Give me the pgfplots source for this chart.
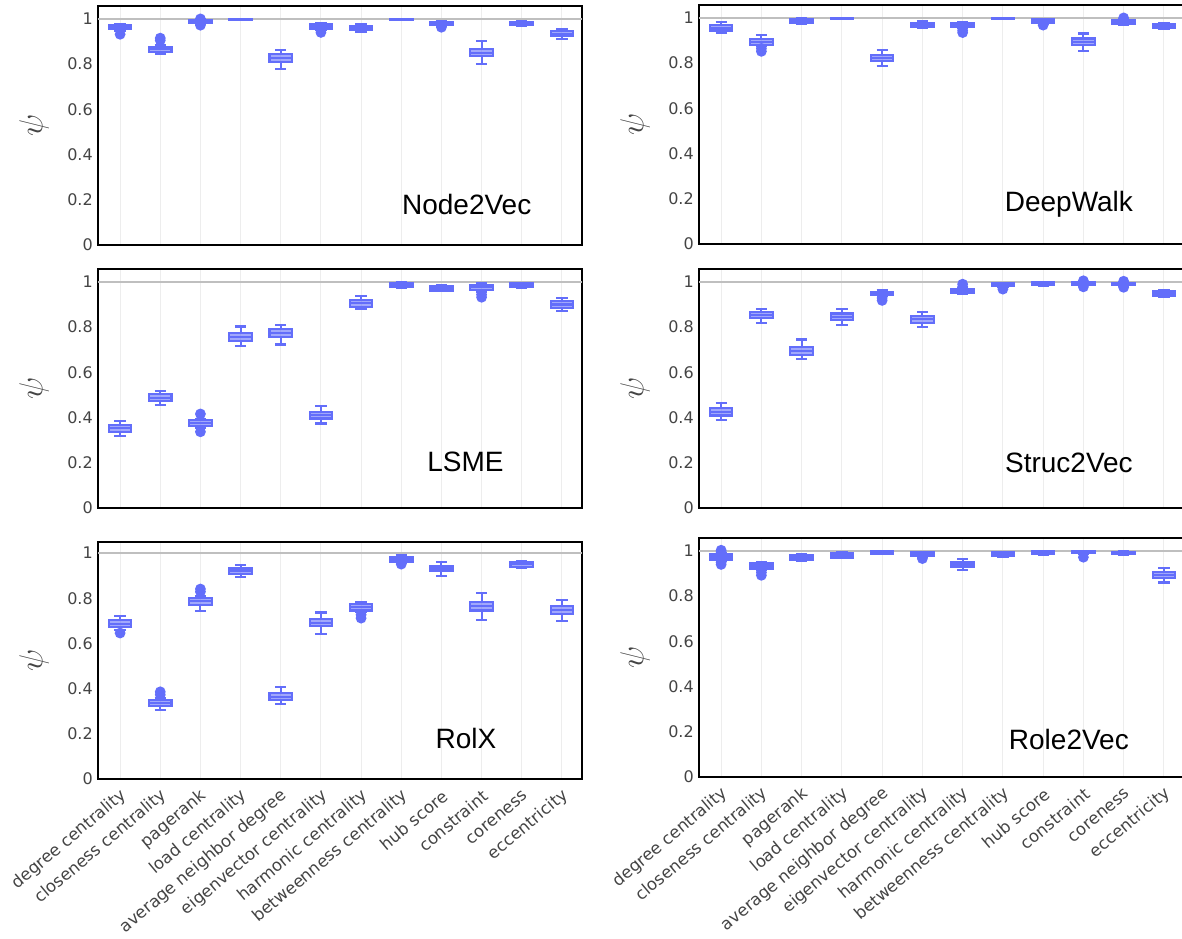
\documentclass[border=0pt]{standalone}
\usepackage{pgfplots}
\pgfplotsset{compat=1.18}
\usepgfplotslibrary{statistics}
\usepackage{fontspec}
\setmainfont{DejaVu Sans}
\newfontfamily\arialf{Liberation Sans}

\newlength{\px}
\setlength{\px}{0.75pt}
\definecolor{pblue}{HTML}{636EFA}
\definecolor{ptext}{HTML}{444444}
\newcommand{\tickfont}{\fontsize{12}{14}\selectfont}
\newcommand{\catfont}{\fontsize{12.5}{14}\selectfont}
\newcommand{\namefont}{\arialf\fontsize{21}{25}\selectfont}

% one box: position, lower whisker, lower quartile, median, upper quartile, upper whisker, outliers
\newcommand{\bx}[7]{\addplot[bstyle, boxplot prepared={draw direction=y, draw position=#1,
  lower whisker=#2, lower quartile=#3, median=#4, upper quartile=#5, upper whisker=#6}]
  table[row sep=\\, x expr=#1, y index=0] {#7};}

\pgfplotsset{
  bstyle/.style={draw=pblue, line width=1.6pt, mark=*, mark size=3.2pt,
    mark options={solid, fill=pblue, draw=pblue},
    boxplot/box extend=0.56, boxplot/whisker extend=0.28,
    boxplot/every box/.style={fill=pblue, fill opacity=0.6}},
  panel/.style={scale only axis, width=484\px, height=239\px,
    xmin=-0.55, xmax=11.5, ymin=0, ymax=1.057,
    xtick={0,...,11}, xticklabels={},
    ytick={0,0.2,0.4,0.6,0.8,1}, yticklabels={0,0.2,0.4,0.6,0.8,1},
    major tick length=0pt,
    xmajorgrids, x grid style={black!7, line width=0.75pt},
    axis line style={line width=1.5pt},
    extra y ticks={1}, extra y tick labels={},
    extra y tick style={ymajorgrids, major grid style={black!25, line width=1.3pt}},
    yticklabel style={font=\tickfont, text=ptext, inner sep=0pt, xshift=-5\px},
    ylabel={\fontsize{23}{26}\selectfont$\psi$},
    ylabel style={at={(axis description cs:-0.132,0.5)}, anchor=center, text=ptext}},
  bottompanel/.style={panel,
    xticklabels={degree centrality, closeness centrality, pagerank, load centrality,
      average neighbor degree, eigenvector centrality, harmonic centrality,
      betweenness centrality, hub score, constraint, coreness, eccentricity},
    xticklabel style={font=\catfont, text=ptext, inner sep=0pt, xshift=3pt, yshift=-11pt, rotate=40, anchor=east}}
}

\begin{document}
\begin{tikzpicture}
\useasboundingbox (0,0) rectangle (1182\px,-939\px);

% Node2Vec
\begin{axis}[panel, at={(98\px,-245\px)}, anchor=south west]
\bx{0}{0.945}{0.955}{0.963}{0.972}{0.978}{y\\0.932\\}
\bx{1}{0.847}{0.855}{0.866}{0.877}{0.886}{y\\0.905\\0.915\\}
\bx{2}{0.977}{0.982}{0.988}{0.993}{0.998}{y\\1.0\\0.972\\}
\bx{3}{0.996}{0.997}{0.998}{0.999}{1.0}{y\\}
\bx{4}{0.779}{0.808}{0.826}{0.845}{0.862}{y\\}
\bx{5}{0.95}{0.957}{0.965}{0.975}{0.98}{y\\0.94\\}
\bx{6}{0.943}{0.953}{0.96}{0.967}{0.975}{y\\}
\bx{7}{0.996}{0.997}{0.998}{0.999}{1.0}{y\\}
\bx{8}{0.97}{0.975}{0.981}{0.987}{0.992}{y\\0.963\\}
\bx{9}{0.801}{0.835}{0.85}{0.868}{0.904}{y\\}
\bx{10}{0.97}{0.975}{0.982}{0.988}{0.992}{y\\}
\bx{11}{0.912}{0.924}{0.935}{0.946}{0.956}{y\\}
\node[font=\namefont] at (axis cs:8.63,0.178) {Node2Vec};
\end{axis}

% DeepWalk
\begin{axis}[panel, width=485\px, at={(699\px,-244\px)}, anchor=south west]
\bx{0}{0.932}{0.944}{0.956}{0.968}{0.982}{y\\}
\bx{1}{0.875}{0.882}{0.894}{0.906}{0.926}{y\\0.865\\0.852\\}
\bx{2}{0.975}{0.979}{0.988}{0.995}{0.999}{y\\}
\bx{3}{0.996}{0.997}{0.998}{0.999}{1.0}{y\\}
\bx{4}{0.787}{0.81}{0.822}{0.835}{0.857}{y\\}
\bx{5}{0.955}{0.96}{0.97}{0.978}{0.984}{y\\}
\bx{6}{0.955}{0.96}{0.97}{0.978}{0.983}{y\\0.945\\0.935\\}
\bx{7}{0.996}{0.997}{0.998}{0.999}{1.0}{y\\}
\bx{8}{0.975}{0.979}{0.987}{0.994}{0.997}{y\\0.968\\}
\bx{9}{0.853}{0.879}{0.895}{0.909}{0.931}{y\\}
\bx{10}{0.97}{0.975}{0.983}{0.99}{0.993}{y\\1.0\\}
\bx{11}{0.95}{0.954}{0.963}{0.971}{0.975}{y\\}
\node[font=\namefont] at (axis cs:8.64,0.175) {DeepWalk};
\end{axis}

% LSME
\begin{axis}[panel, at={(98\px,-508\px)}, anchor=south west]
\bx{0}{0.32}{0.337}{0.352}{0.367}{0.385}{y\\}
\bx{1}{0.456}{0.473}{0.488}{0.503}{0.519}{y\\}
\bx{2}{0.355}{0.362}{0.375}{0.389}{0.395}{y\\0.416\\0.337\\}
\bx{3}{0.717}{0.74}{0.757}{0.774}{0.803}{y\\}
\bx{4}{0.723}{0.756}{0.773}{0.791}{0.809}{y\\}
\bx{5}{0.374}{0.396}{0.411}{0.426}{0.453}{y\\}
\bx{6}{0.882}{0.889}{0.905}{0.919}{0.936}{y\\}
\bx{7}{0.975}{0.978}{0.987}{0.995}{0.999}{y\\}
\bx{8}{0.958}{0.962}{0.972}{0.981}{0.985}{y\\}
\bx{9}{0.955}{0.963}{0.976}{0.988}{0.993}{y\\0.944\\0.932\\}
\bx{10}{0.972}{0.976}{0.985}{0.993}{0.996}{y\\}
\bx{11}{0.873}{0.885}{0.9}{0.914}{0.93}{y\\}
\node[font=\namefont] at (axis cs:8.6,0.204) {LSME};
\end{axis}

% Struc2Vec
\begin{axis}[panel, width=485\px, at={(699\px,-508\px)}, anchor=south west]
\bx{0}{0.391}{0.409}{0.425}{0.442}{0.465}{y\\}
\bx{1}{0.819}{0.839}{0.853}{0.867}{0.882}{y\\}
\bx{2}{0.659}{0.678}{0.695}{0.711}{0.745}{y\\}
\bx{3}{0.81}{0.83}{0.845}{0.86}{0.881}{y\\}
\bx{4}{0.937}{0.942}{0.95}{0.957}{0.962}{y\\0.929\\0.918\\}
\bx{5}{0.799}{0.819}{0.835}{0.851}{0.867}{y\\}
\bx{6}{0.947}{0.951}{0.96}{0.969}{0.972}{y\\0.978\\0.99\\}
\bx{7}{0.977}{0.981}{0.987}{0.993}{0.996}{y\\0.968\\}
\bx{8}{0.984}{0.987}{0.993}{0.998}{1.0}{y\\}
\bx{9}{0.985}{0.988}{0.994}{0.999}{1.0}{y\\0.978\\1.005\\}
\bx{10}{0.982}{0.985}{0.99}{0.996}{1.0}{y\\0.976\\1.003\\}
\bx{11}{0.934}{0.94}{0.95}{0.959}{0.966}{y\\}
\node[font=\namefont] at (axis cs:8.64,0.199) {Struc2Vec};
\end{axis}

% RolX
\begin{axis}[bottompanel, height=237\px, ymax=1.049, at={(98\px,-779\px)}, anchor=south west]
\bx{0}{0.658}{0.673}{0.687}{0.702}{0.723}{y\\0.646\\}
\bx{1}{0.307}{0.324}{0.338}{0.351}{0.36}{y\\0.373\\0.386\\}
\bx{2}{0.745}{0.771}{0.786}{0.801}{0.81}{y\\0.829\\0.841\\}
\bx{3}{0.895}{0.909}{0.92}{0.932}{0.947}{y\\}
\bx{4}{0.333}{0.348}{0.364}{0.381}{0.407}{y\\}
\bx{5}{0.64}{0.676}{0.692}{0.708}{0.737}{y\\}
\bx{6}{0.74}{0.746}{0.76}{0.773}{0.785}{y\\0.727\\0.712\\}
\bx{7}{0.958}{0.963}{0.973}{0.982}{0.991}{y\\0.951\\}
\bx{8}{0.897}{0.919}{0.932}{0.944}{0.959}{y\\}
\bx{9}{0.705}{0.746}{0.764}{0.782}{0.823}{y\\}
\bx{10}{0.935}{0.938}{0.95}{0.962}{0.965}{y\\}
\bx{11}{0.698}{0.732}{0.748}{0.764}{0.794}{y\\}
\node[font=\namefont] at (axis cs:8.61,0.178) {RolX};
\end{axis}

% Role2Vec
\begin{axis}[bottompanel, width=485\px, at={(699\px,-777\px)}, anchor=south west]
\bx{0}{0.955}{0.962}{0.973}{0.984}{0.99}{y\\1.003\\0.995\\0.95\\0.94\\}
\bx{1}{0.915}{0.922}{0.933}{0.944}{0.95}{y\\0.905\\0.892\\}
\bx{2}{0.955}{0.962}{0.972}{0.981}{0.986}{y\\}
\bx{3}{0.968}{0.971}{0.981}{0.991}{0.995}{y\\}
\bx{4}{0.985}{0.988}{0.994}{1.0}{1.0}{y\\}
\bx{5}{0.975}{0.978}{0.985}{0.993}{0.996}{y\\0.966\\}
\bx{6}{0.917}{0.929}{0.94}{0.951}{0.963}{y\\}
\bx{7}{0.973}{0.976}{0.985}{0.994}{0.996}{y\\}
\bx{8}{0.983}{0.985}{0.993}{1.0}{1.0}{y\\}
\bx{9}{0.987}{0.99}{0.996}{1.0}{1.0}{y\\0.972\\}
\bx{10}{0.983}{0.985}{0.992}{0.997}{0.999}{y\\}
\bx{11}{0.86}{0.879}{0.893}{0.908}{0.926}{y\\}
\node[font=\namefont] at (axis cs:8.64,0.167) {Role2Vec};
\end{axis}
\end{tikzpicture}
\end{document}
